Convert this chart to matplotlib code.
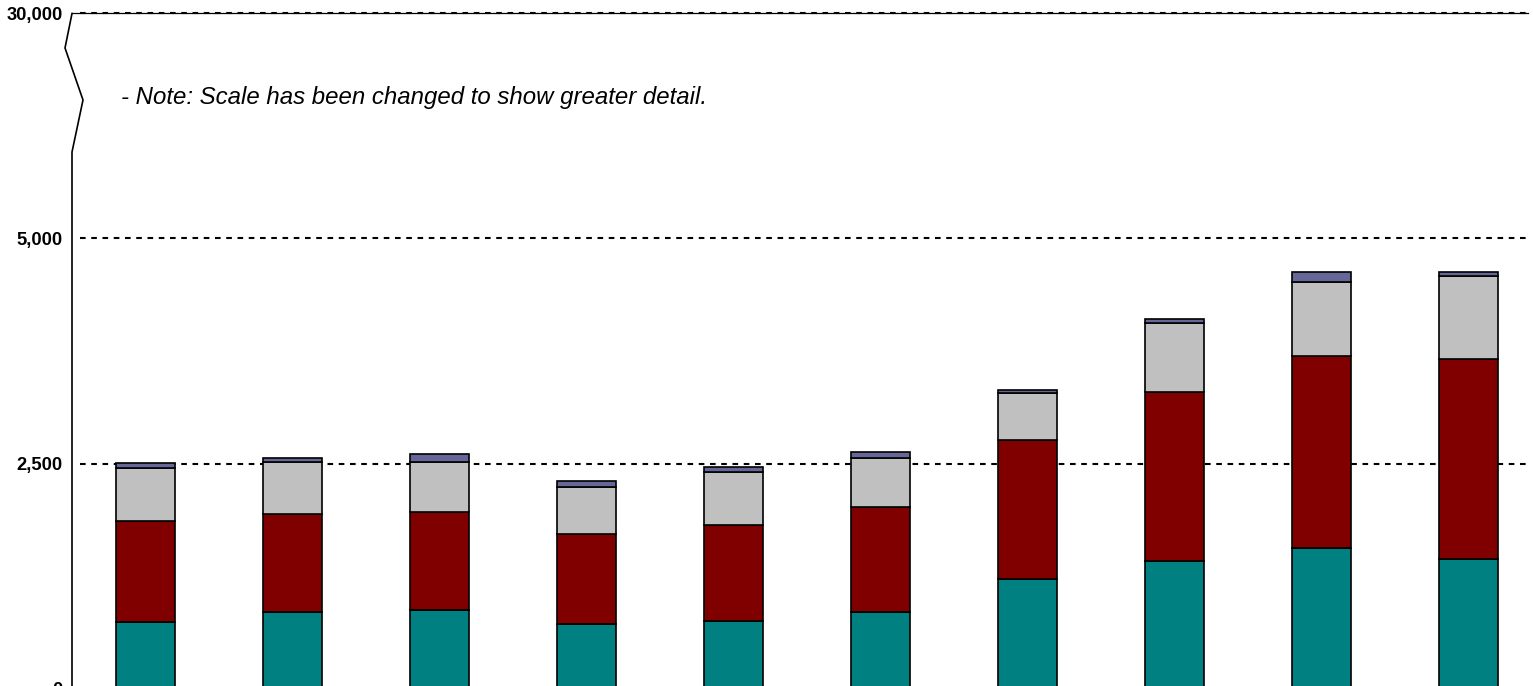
import matplotlib
matplotlib.use("Agg")
import matplotlib.pyplot as plt
import numpy as np

# ---- data ----
categories = ["1", "2", "3", "4", "5", "6", "7", "8", "9", "10"]
teal_vals = [735, 853, 872, 717, 753, 853, 1217, 1417, 1558, 1436]
red_vals = [1126, 1086, 1089, 1003, 1064, 1167, 1544, 1881, 2140, 2228]
gray_vals = [592, 574, 556, 522, 585, 538, 519, 763, 822, 919]
slate_vals = [49, 51, 85, 64, 62, 66, 37, 45, 104, 41]
series = [teal_vals, red_vals, gray_vals, slate_vals]
series_colors = ["#008080", "#800000", "#C0C0C0", "#666699"]

tick_values = [0, 2500, 5000, 30000]
tick_labels = ["0", "2,500", "5,000", "30,000"]
note_text = "- Note: Scale has been changed to show greater detail."

BREAK = 5000
def scale(v):
    v = np.asarray(v, dtype=float)
    return np.where(v <= BREAK, v, BREAK + (v - BREAK) * 2500.0 / 25000.0)

plt.rcParams['font.family'] = ['Liberation Sans', 'DejaVu Sans']

W, H = 1533, 686
fig = plt.figure(figsize=(W / 100, H / 100), dpi=100)
ax = fig.add_axes([72 / W, -2.5 / H, 1470 / W, 675 / H])

x = np.arange(len(categories))
bottom = np.zeros(len(categories))
for vals, col in zip(series, series_colors):
    vals = np.asarray(vals, dtype=float)
    top = scale(bottom + vals)
    b = scale(bottom)
    ax.bar(x, top - b, bottom=b, width=0.40, color=col, edgecolor="black",
           linewidth=1.2, zorder=3)
    bottom = bottom + vals

ax.set_xlim(-0.5, len(categories) - 0.5)
ax.set_ylim(0, float(scale(max(tick_values))))

# gridlines
for tv in tick_values[1:]:
    ax.axhline(float(scale(tv)), xmin=8 / 1470, xmax=1456 / 1470, color="black",
               linestyle=(0, (2.7, 2.7)), linewidth=1.5, zorder=1, clip_on=False)
ax.axhline(float(scale(max(tick_values))), xmin=0, xmax=1456 / 1470, color="black",
           linewidth=0.9, zorder=1, clip_on=False)

ax.set_yticks(scale(tick_values))
ax.set_yticklabels(tick_labels, fontsize=13.2, fontweight="bold")
ax.tick_params(axis="y", length=0, pad=6.5)
ax.set_xticks([])
for s in ax.spines.values():
    s.set_visible(False)

# broken left axis line
ytop = float(scale(max(tick_values)))
zx = [0, 0, 11 / 1470, -7 / 1470, 0]
zy = [0, float(scale(14610)), float(scale(20390)), float(scale(26170)), ytop]
ax.plot(zx, zy, color="black", linewidth=1.2, transform=ax.get_yaxis_transform(),
        clip_on=False, zorder=4)

ax.text(-0.165, float(scale(19940)), note_text, fontsize=17.3, style="italic",
        va="baseline", ha="left")

fig.savefig("out.png", dpi=100)
